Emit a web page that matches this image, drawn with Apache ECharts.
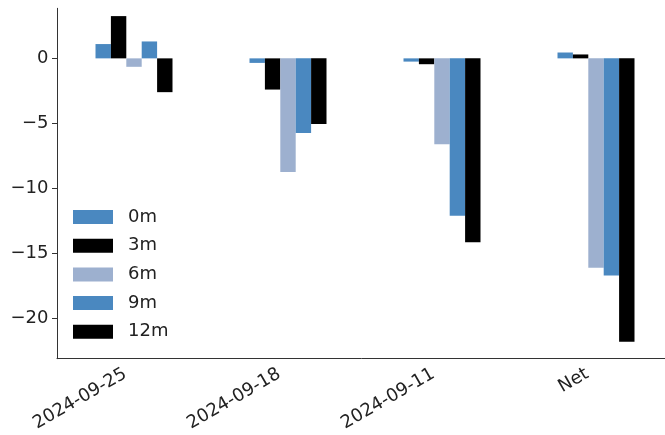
<!DOCTYPE html>
<html>
<head>
<meta charset="utf-8">
<script src="https://cdn.jsdelivr.net/npm/echarts@6/dist/echarts.min.js"></script>
<style>html,body{margin:0;padding:0;background:#fff}#c{width:665px;height:435px}</style>
</head>
<body>
<div id="c"></div>
<script>
const categories = ['2024-09-25', '2024-09-18', '2024-09-11', 'Net'];
const seriesNames = ['0m', '3m', '6m', '9m', '12m'];
const v0m  = [1.1, -0.35, -0.25, 0.45];
const v3m  = [3.25, -2.4, -0.45, 0.3];
const v6m  = [-0.65, -8.75, -6.6, -16.1];
const v9m  = [1.3, -5.75, -12.1, -16.7];
const v12m = [-2.6, -5.05, -14.15, -21.8];
const yTicks = [-20, -15, -10, -5, 0];

const values = [v0m, v3m, v6m, v9m, v12m];
const colors = ['#4a88c0', '#000000', '#9db0cf', '#4a88c0', '#000000'];
const font = 'DejaVu Sans';

const chart = echarts.init(document.getElementById('c'), null, {renderer: 'canvas'});
chart.setOption({
  animation: false,
  backgroundColor: '#fff',
  grid: {left: 57, top: 8.3, width: 616, height: 350.4, containLabel: false, outerBoundsMode: 'none'},
  legend: {
    orient: 'vertical', left: 68, top: 203,
    itemWidth: 40, itemHeight: 14, itemGap: 10.7,
    icon: 'rect',
    data: seriesNames,
    textStyle: {fontFamily: font, fontSize: 18, color: '#222', padding: [0, 0, 0, 10]}
  },
  xAxis: {
    type: 'category', data: categories, position: 'bottom',
    axisLine: {onZero: false, lineStyle: {color: '#333', width: 1}},
    axisTick: {alignWithLabel: true, length: 5, lineStyle: {color: '#333'}},
    axisLabel: {interval: 0, rotate: 30, margin: 9, padding: [0, 10, 0, 0],
      fontFamily: font, fontSize: 18, color: '#222'},
    splitLine: {show: false}
  },
  yAxis: {
    type: 'value', min: -23.1, max: 3.85,
    axisLine: {show: true, lineStyle: {color: '#333', width: 1}},
    axisTick: {show: true, length: 5, customValues: yTicks, lineStyle: {color: '#333'}},
    axisLabel: {customValues: yTicks, margin: 8.5, fontFamily: font, fontSize: 18, color: '#222',
      formatter: v => String(v).replace('-', '\u2212')},
    splitLine: {show: false}
  },
  series: seriesNames.map((n, i) => ({
    name: n, type: 'bar', data: values[i],
    barWidth: '10%', barGap: '0%',
    itemStyle: {color: colors[i]}
  }))
});
</script>
</body>
</html>
